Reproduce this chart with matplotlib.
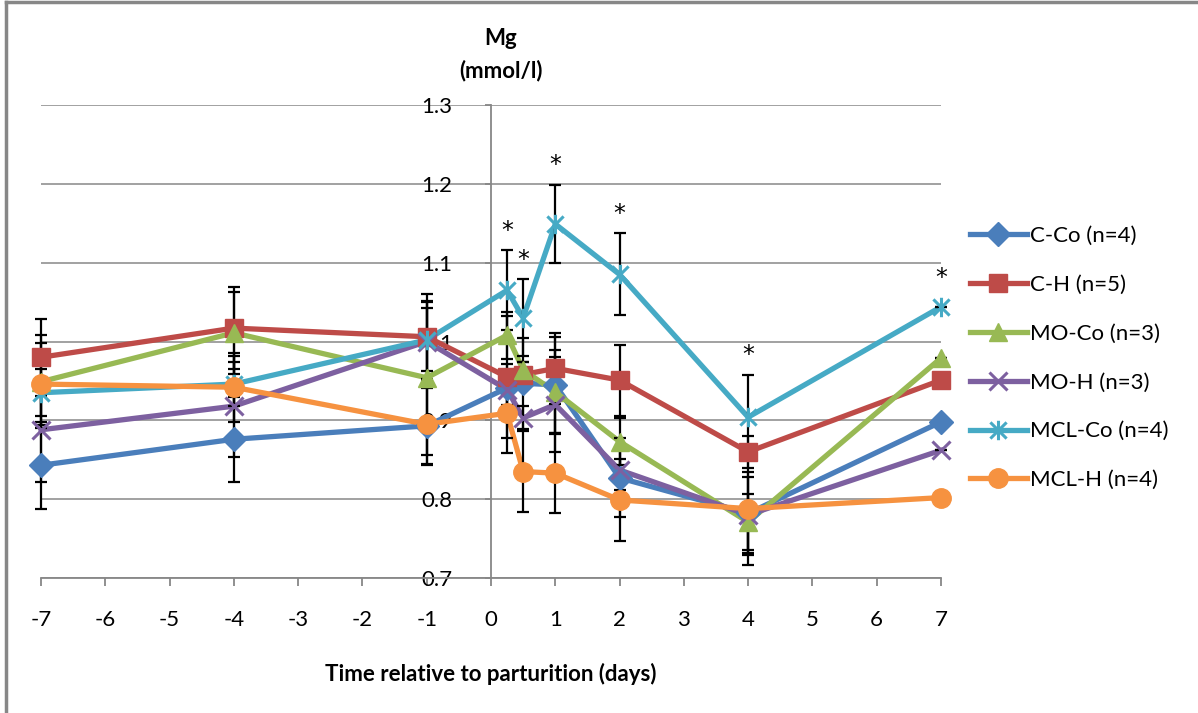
import matplotlib
matplotlib.use('Agg')
import matplotlib.pyplot as plt
import numpy as np
from matplotlib.path import Path
from matplotlib.lines import Line2D

plt.rcParams['font.family'] = ['Lato', 'DejaVu Sans']
plt.rcParams['axes.unicode_minus'] = False

days = [-7, -4, -1, 0.25, 0.5, 1, 2, 4, 7]

labels = ['C-Co (n=4)', 'C-H (n=5)', 'MO-Co (n=3)', 'MO-H (n=3)', 'MCL-Co (n=4)', 'MCL-H (n=4)']

c_co = [0.843, 0.876, 0.893, 0.941, 0.947, 0.945, 0.827, 0.782, 0.898]
c_h = [0.980, 1.017, 1.006, 0.955, 0.958, 0.966, 0.951, 0.860, 0.951]
mo_co = [0.949, 1.011, 0.954, 1.008, 0.964, 0.936, 0.873, 0.771, 0.979]
mo_h = [0.888, 0.918, 1.000, 0.939, 0.903, 0.920, 0.837, 0.780, 0.862]
mcl_co = [0.935, 0.946, 1.002, 1.065, 1.030, 1.149, 1.085, 0.904, 1.044]
mcl_h = [0.946, 0.942, 0.895, 0.909, 0.835, 0.833, 0.799, 0.788, 0.802]

# standard errors
c_co_se = [0.055, 0.054, 0.048, 0.030, 0.058, 0.061, 0.050, 0.053, 0.0]
c_h_se = [0.049, 0.052, 0.054, 0.077, 0.016, 0.045, 0.045, 0.020, 0.0]
mo_co_se = [0.059, 0.052, 0.098, 0.030, 0.010, 0.053, 0.030, 0.035, 0.0]
mo_h_se = [0.066, 0.064, 0.050, 0.020, 0.015, 0.060, 0.025, 0.048, 0.0]
mcl_co_se = [0.030, 0.028, 0.040, 0.051, 0.049, 0.050, 0.052, 0.054, 0.0]
mcl_h_se = [0.052, 0.044, 0.052, 0.050, 0.051, 0.051, 0.052, 0.071, 0.0]

# days where MCL-Co differs significantly
star_days = [0.25, 0.5, 1, 2, 4, 7]

series = [c_co, c_h, mo_co, mo_h, mcl_co, mcl_h]
errors = [c_co_se, c_h_se, mo_co_se, mo_h_se, mcl_co_se, mcl_h_se]
colors = ['#4A7EBB', '#BE4B48', '#98B954', '#7D60A0', '#46AAC5', '#F69240']

asterisk = Path([(-1, -1), (1, 1), (-1, 1), (1, -1), (0, -1.2), (0, 1.2)],
                [Path.MOVETO, Path.LINETO, Path.MOVETO, Path.LINETO, Path.MOVETO, Path.LINETO])
markers = ['D', 's', '^', 'x', asterisk, 'o']
msizes = [12, 13, 13, 13, 14, 14]

fig = plt.figure(figsize=(11.98, 7.13), dpi=100)
ax = fig.add_axes([41 / 1198, 1 - 578 / 713, 900 / 1198, 473 / 713])

grey = '#878787'
ax.set_xlim(-7, 7)
ax.set_ylim(0.7, 1.3)
ax.set_yticks([0.7, 0.8, 0.9, 1.0, 1.1, 1.2, 1.3])
ax.set_yticklabels(['0.7', '0.8', '0.9', '1', '1.1', '1.2', '1.3'])
ax.set_xticks(range(-7, 8))
ax.grid(axis='y', color=grey, linewidth=1.1)
ax.set_axisbelow(True)

for s in ['top', 'right']:
    ax.spines[s].set_visible(False)
ax.spines['left'].set_position(('data', 0))
ax.spines['left'].set_color(grey)
ax.spines['bottom'].set_color(grey)
ax.spines['left'].set_linewidth(1.3)
ax.spines['bottom'].set_linewidth(1.3)
ax.tick_params(axis='y', direction='out', length=4, color=grey, width=1.3, pad=24, labelsize=16)
ax.tick_params(axis='x', direction='out', length=6, color=grey, width=1.3, pad=17, labelsize=16)

handles = []
for vals, se, col, mk, ms, lab in zip(series, errors, colors, markers, msizes, labels):
    ax.plot(days, vals, color=col, linewidth=3.8, zorder=3, clip_on=False)
    ax.errorbar(days, vals, yerr=se, fmt='none', ecolor='black', elinewidth=1.6,
                capsize=4.5, capthick=1.6, zorder=4, clip_on=False)
    mew = 2.2 if mk in ('x',) or mk is asterisk else 1
    ax.plot(days, vals, linestyle='none', marker=mk, markersize=ms, color=col,
            markeredgecolor=col, markeredgewidth=mew, zorder=5, clip_on=False)
    handles.append(Line2D([], [], color=col, linewidth=3.8, marker=mk, markersize=ms,
                          markeredgecolor=col, markeredgewidth=mew))

for d in star_days:
    i = days.index(d)
    off = 14 if mcl_co_se[i] > 0 else 21
    ax.annotate('*', (d, mcl_co[i] + mcl_co_se[i]), xytext=(0, off), textcoords='offset points',
                ha='center', va='center', fontsize=17, color='black', family='DejaVu Sans')

ax.set_xlabel('Time relative to parturition (days)', fontsize=16, fontweight='bold', labelpad=24)
fig.text(501 / 1198, 1 - 55 / 713, 'Mg\n(mmol/l)', ha='center', va='center',
         fontsize=16, fontweight='bold', linespacing=1.6)

leg = fig.legend(handles, labels, loc='center left', bbox_to_anchor=(961 / 1198, 1 - 358 / 713),
                 frameon=False, fontsize=16, handlelength=2.55, labelspacing=1.3,
                 handletextpad=0.15, borderaxespad=0)

fig.add_artist(Line2D([6 / 1198, 6 / 1198], [0, 1 - 2 / 713], color=grey, linewidth=2.5,
                      transform=fig.transFigure))
fig.add_artist(Line2D([6 / 1198, 1], [1 - 2 / 713, 1 - 2 / 713], color=grey, linewidth=2.5,
                      transform=fig.transFigure))

fig.savefig('out.png', dpi=100)
